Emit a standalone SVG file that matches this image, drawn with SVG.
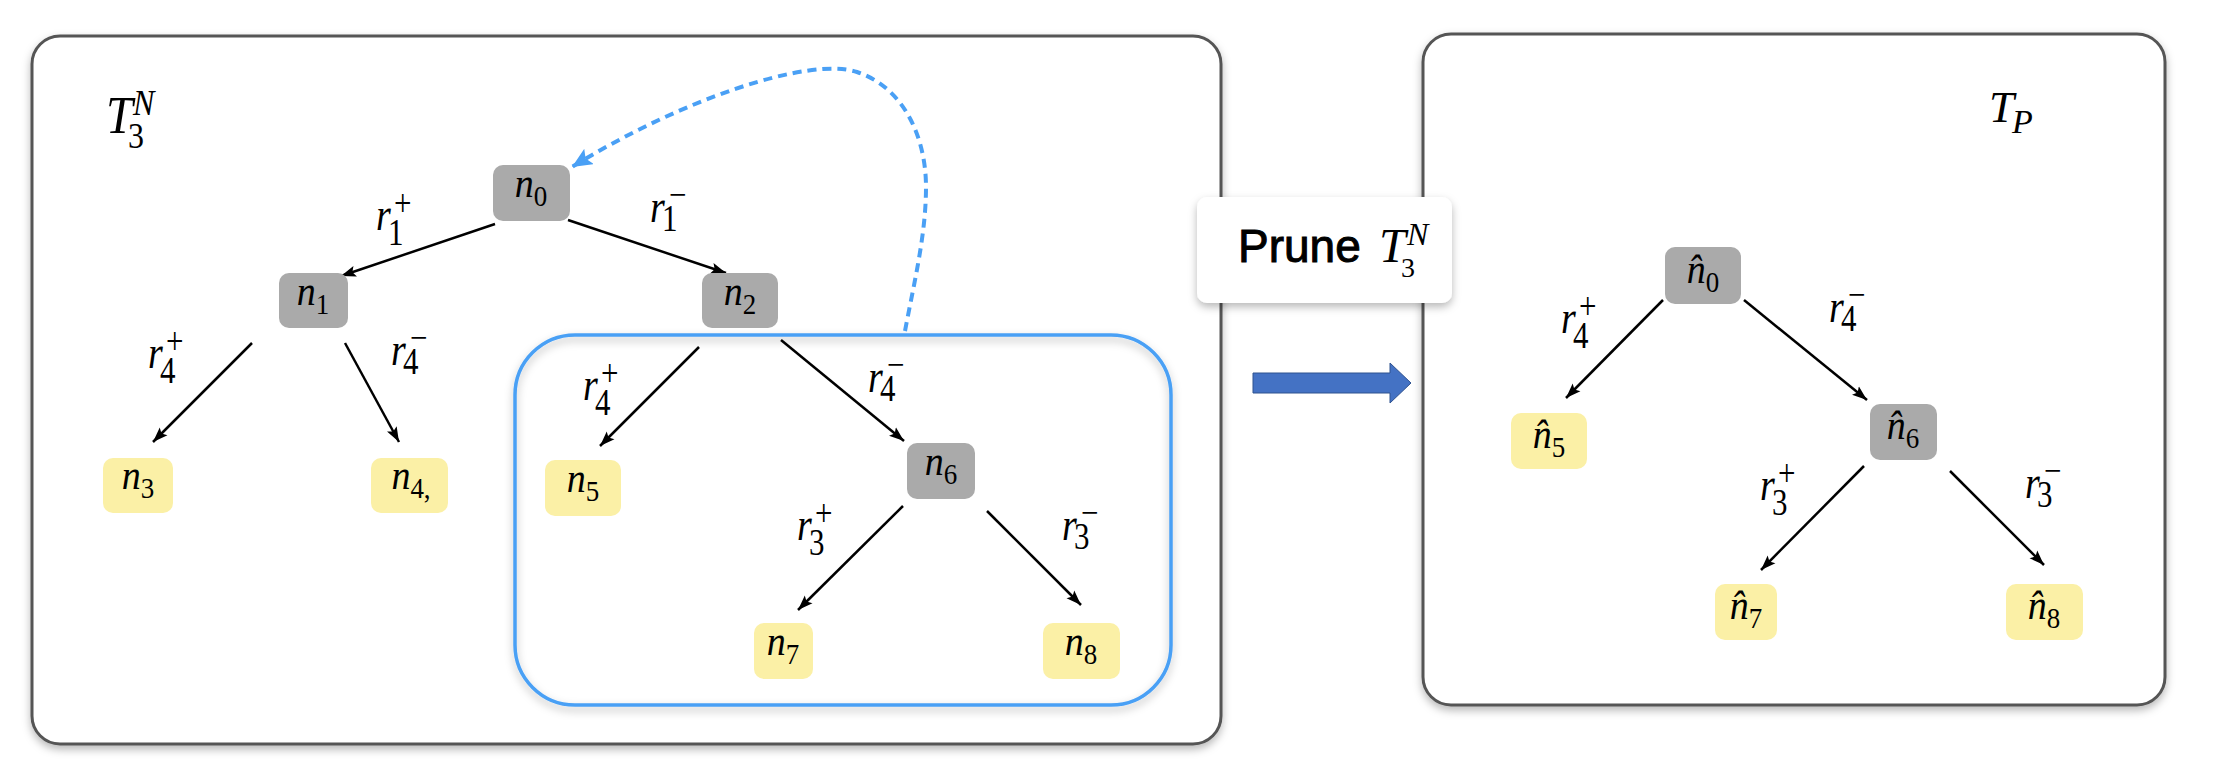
<svg xmlns="http://www.w3.org/2000/svg" width="2220" height="770" viewBox="0 0 2220 770">
<defs>
<filter id="sh" x="-10%" y="-10%" width="120%" height="130%">
<feDropShadow dx="0" dy="4" stdDeviation="4" flood-color="#000" flood-opacity="0.28"/>
</filter>
<marker id="ah" markerUnits="userSpaceOnUse" markerWidth="16" markerHeight="12" refX="15" refY="6" orient="auto">
<path d="M0,0.5 L15,6 L0,11.5 L3,6 z" fill="#000"/>
</marker>
<marker id="bh" markerUnits="userSpaceOnUse" markerWidth="22" markerHeight="18" refX="20" refY="9" orient="auto">
<path d="M0,0 L20,9 L0,18 L4,9 z" fill="#4aa0f5"/>
</marker>
</defs>
<style>
.frame{fill:#fff;stroke:#555;stroke-width:3}
.gray{fill:#aaaaaa}
.yel{fill:#fbf0a6}
.edge{stroke:#000;stroke-width:2.5;fill:none;marker-end:url(#ah)}
.nt{font-family:"Liberation Serif",serif;font-size:38px;fill:#000}
.it{font-style:italic}
.r{font-family:"Liberation Serif",serif;font-style:italic;font-size:38px;fill:#000}
.s{font-family:"Liberation Serif",serif;font-size:31px;fill:#000}
.ti{font-family:"Liberation Serif",serif;font-style:italic;fill:#000}
.td{font-family:"Liberation Serif",serif;fill:#000}
</style>

<!-- frames -->
<g id="frame-left">
<rect class="frame" x="32" y="36" width="1189" height="708" rx="28" filter="url(#sh)"/>
<g transform="translate(106,133) scale(1,1.1)">
<text class="ti" x="0" y="0" font-size="48">T</text>
<text class="ti" x="27" y="-16" font-size="32">N</text>
<text class="td" x="22" y="14" font-size="32">3</text>
</g>
</g>
<g id="frame-right">
<rect class="frame" x="1423" y="34" width="742" height="671" rx="28" filter="url(#sh)"/>
<text class="ti" x="1989" y="122" font-size="45">T</text>
<text class="ti" x="2012" y="133" font-size="34">P</text>
</g>
<g id="subtree-box">
<rect x="515" y="335" width="656" height="370" rx="60" fill="none" stroke="#4aa0f5" stroke-width="3.5" filter="url(#sh)"/>
</g>

<!-- connectors -->
<g id="connectors">
<path class="edge" d="M495,224 L341,276"/>
<path class="edge" d="M568,220 L726,273"/>
<path class="edge" d="M252,343 L153,442"/>
<path class="edge" d="M345,343 L399,442"/>
<path class="edge" d="M699,347 L600,446"/>
<path class="edge" d="M781,340 L904,441"/>
<path class="edge" d="M903,506 L798,610"/>
<path class="edge" d="M987,511 L1081,605"/>
<path class="edge" d="M1663,300 L1566,398"/>
<path class="edge" d="M1744,300 L1867,400"/>
<path class="edge" d="M1864,466 L1761,570"/>
<path class="edge" d="M1950,471 L2044,565"/>
<path d="M905,331 C914,283 926,235 926,187 C926,139 905,88 857,72 C809,56 680,100 572,167" fill="none" stroke="#4aa0f5" stroke-width="4" stroke-dasharray="9 6" marker-end="url(#bh)"/>
<polygon points="1253,373 1390,373 1390,363 1411,383 1390,403 1390,393 1253,393" fill="#4472c4" stroke="#2f528f" stroke-width="1"/>
</g>

<!-- edge labels -->
<g id="labels">
<g transform="translate(376,230) scale(1,1.2)"><text class="r">r</text><text class="s" x="18" y="-11.7">+</text><text class="s" x="12" y="12.5">1</text></g>
<g transform="translate(650,222) scale(1,1.2)"><text class="r">r</text><text class="s" x="19" y="-12.5">−</text><text class="s" x="12" y="7.5">1</text></g>
<g transform="translate(148,368) scale(1,1.2)"><text class="r">r</text><text class="s" x="18" y="-11.7">+</text><text class="s" x="12" y="12.5">4</text></g>
<g transform="translate(391,365) scale(1,1.2)"><text class="r">r</text><text class="s" x="19" y="-12.5">−</text><text class="s" x="12" y="7.5">4</text></g>
<g transform="translate(583,400) scale(1,1.2)"><text class="r">r</text><text class="s" x="18" y="-11.7">+</text><text class="s" x="12" y="12.5">4</text></g>
<g transform="translate(868,392) scale(1,1.2)"><text class="r">r</text><text class="s" x="19" y="-12.5">−</text><text class="s" x="12" y="7.5">4</text></g>
<g transform="translate(797,540) scale(1,1.2)"><text class="r">r</text><text class="s" x="18" y="-11.7">+</text><text class="s" x="12" y="12.5">3</text></g>
<g transform="translate(1062,540) scale(1,1.2)"><text class="r">r</text><text class="s" x="19" y="-12.5">−</text><text class="s" x="12" y="7.5">3</text></g>
<g transform="translate(1561,333) scale(1,1.2)"><text class="r">r</text><text class="s" x="18" y="-11.7">+</text><text class="s" x="12" y="12.5">4</text></g>
<g transform="translate(1829,322) scale(1,1.2)"><text class="r">r</text><text class="s" x="19" y="-12.5">−</text><text class="s" x="12" y="7.5">4</text></g>
<g transform="translate(1760,500) scale(1,1.2)"><text class="r">r</text><text class="s" x="18" y="-11.7">+</text><text class="s" x="12" y="12.5">3</text></g>
<g transform="translate(2025,498) scale(1,1.2)"><text class="r">r</text><text class="s" x="19" y="-12.5">−</text><text class="s" x="12" y="7.5">3</text></g>
</g>

<!-- nodes left -->
<g id="n0"><rect class="gray" x="493" y="165" width="77" height="56" rx="10"/><text class="nt" transform="translate(531,197) scale(1,1.1)" text-anchor="middle"><tspan class="it">n</tspan><tspan font-size="27" dy="8">0</tspan></text></g>
<g id="n1"><rect class="gray" x="279" y="273" width="69" height="55" rx="10"/><text class="nt" transform="translate(313,305) scale(1,1.1)" text-anchor="middle"><tspan class="it">n</tspan><tspan font-size="27" dy="8">1</tspan></text></g>
<g id="n2"><rect class="gray" x="702" y="273" width="76" height="55" rx="10"/><text class="nt" transform="translate(740,305) scale(1,1.1)" text-anchor="middle"><tspan class="it">n</tspan><tspan font-size="27" dy="8">2</tspan></text></g>
<g id="n3"><rect class="yel" x="103" y="458" width="70" height="55" rx="10"/><text class="nt" transform="translate(138,489) scale(1,1.1)" text-anchor="middle"><tspan class="it">n</tspan><tspan font-size="27" dy="8">3</tspan></text></g>
<g id="n4"><rect class="yel" x="371" y="458" width="77" height="55" rx="10"/><text class="nt" transform="translate(411,489) scale(1,1.1)" text-anchor="middle"><tspan class="it">n</tspan><tspan font-size="27" dy="8">4,</tspan></text></g>
<g id="n5"><rect class="yel" x="545" y="460" width="76" height="56" rx="10"/><text class="nt" transform="translate(583,492) scale(1,1.1)" text-anchor="middle"><tspan class="it">n</tspan><tspan font-size="27" dy="8">5</tspan></text></g>
<g id="n6"><rect class="gray" x="907" y="443" width="68" height="56" rx="10"/><text class="nt" transform="translate(941,475) scale(1,1.1)" text-anchor="middle"><tspan class="it">n</tspan><tspan font-size="27" dy="8">6</tspan></text></g>
<g id="n7"><rect class="yel" x="754" y="623" width="59" height="56" rx="10"/><text class="nt" transform="translate(783,655) scale(1,1.1)" text-anchor="middle"><tspan class="it">n</tspan><tspan font-size="27" dy="8">7</tspan></text></g>
<g id="n8"><rect class="yel" x="1043" y="623" width="77" height="56" rx="10"/><text class="nt" transform="translate(1081,655) scale(1,1.1)" text-anchor="middle"><tspan class="it">n</tspan><tspan font-size="27" dy="8">8</tspan></text></g>

<!-- nodes right -->
<g id="nh0"><rect class="gray" x="1665" y="247" width="76" height="57" rx="10"/><text class="nt" transform="translate(1703,283) scale(1,1.1)" text-anchor="middle"><tspan class="it">n̂</tspan><tspan font-size="27" dy="8">0</tspan></text></g>
<g id="nh5"><rect class="yel" x="1511" y="413" width="76" height="56" rx="10"/><text class="nt" transform="translate(1549,448) scale(1,1.1)" text-anchor="middle"><tspan class="it">n̂</tspan><tspan font-size="27" dy="8">5</tspan></text></g>
<g id="nh6"><rect class="gray" x="1870" y="404" width="67" height="56" rx="10"/><text class="nt" transform="translate(1903,439) scale(1,1.1)" text-anchor="middle"><tspan class="it">n̂</tspan><tspan font-size="27" dy="8">6</tspan></text></g>
<g id="nh7"><rect class="yel" x="1715" y="584" width="62" height="56" rx="10"/><text class="nt" transform="translate(1746,619) scale(1,1.1)" text-anchor="middle"><tspan class="it">n̂</tspan><tspan font-size="27" dy="8">7</tspan></text></g>
<g id="nh8"><rect class="yel" x="2006" y="584" width="77" height="56" rx="10"/><text class="nt" transform="translate(2044,619) scale(1,1.1)" text-anchor="middle"><tspan class="it">n̂</tspan><tspan font-size="27" dy="8">8</tspan></text></g>

<!-- prune label -->
<g id="prune">
<rect x="1197" y="197" width="255" height="106" rx="10" fill="#fff" filter="url(#sh)"/>
<text x="1238" y="262" font-family="Liberation Sans, Arial, sans-serif" font-size="46" fill="#000" stroke="#000" stroke-width="1">Prune</text>
<text class="ti" x="1379" y="262" font-size="48">T</text>
<text class="ti" x="1407" y="245" font-size="32">N</text>
<text class="td" x="1401" y="277" font-size="28">3</text>
</g>
</svg>
